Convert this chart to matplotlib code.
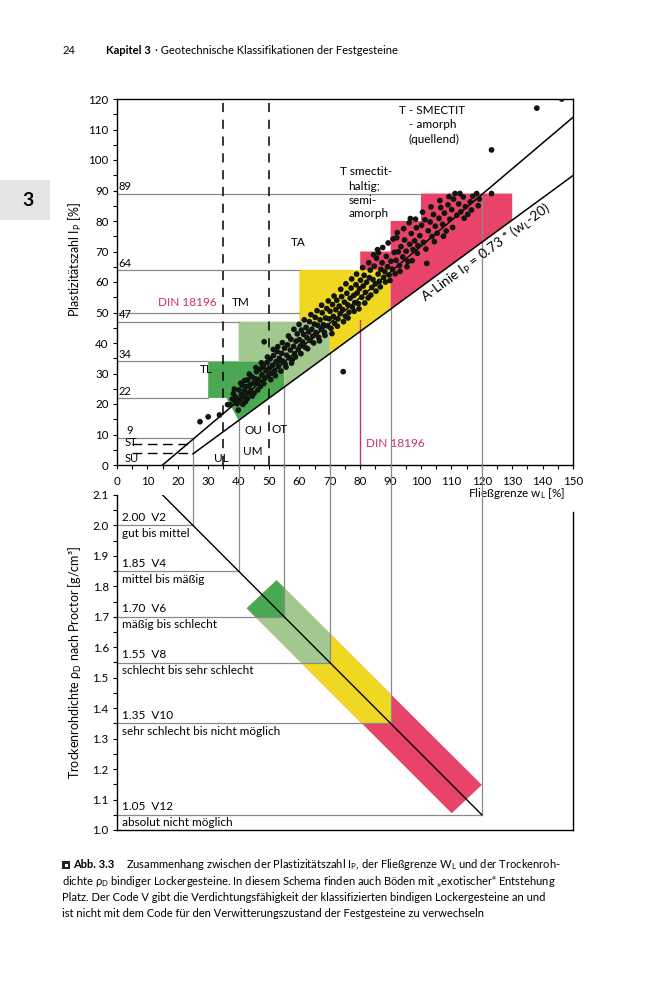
import numpy as np
import matplotlib
matplotlib.use("Agg")
import matplotlib.pyplot as plt
from matplotlib.patches import Polygon, Rectangle

plt.rcParams['font.family'] = ['Lato', 'DejaVu Sans']
plt.rcParams['mathtext.fontset'] = 'custom'
plt.rcParams['mathtext.rm'] = 'Lato'
plt.rcParams['mathtext.it'] = 'Lato:italic'
plt.rcParams['mathtext.bf'] = 'Lato:bold'
plt.rcParams['mathtext.fallback'] = 'stixsans'

# --- Daten: Punktwolke (w_L, I_P) ---
wl_pts = [36.4, 37.2, 37.9, 38.3, 38.8, 39.1, 39.9, 40.1, 40.4, 40.9, 41.2, 41.6, 41.9, 42.3, 42.6,
          43.0, 43.1, 43.7, 44.0, 44.3, 44.8, 45.1, 45.4, 45.9, 46.1, 46.6, 47.0, 47.2, 47.7, 48.1,
          48.4, 48.6, 49.0, 49.3, 49.7, 50.1, 50.4, 50.8, 51.2, 51.5, 51.9, 52.3, 52.7, 53.1, 53.4,
          53.9, 54.2, 54.6, 55.1, 55.3, 55.8, 56.1, 56.6, 57.0, 57.2, 57.7, 58.1, 58.4, 58.9, 59.3,
          59.6, 60.0, 60.3, 60.7, 61.1, 61.4, 61.9, 62.2, 62.5, 63.0, 63.3, 63.6, 64.1, 64.4, 64.9,
          65.2, 65.5, 66.0, 66.3, 66.8, 67.1, 67.5, 67.9, 68.2, 68.6, 69.0, 69.3, 69.8, 70.1, 70.4,
          70.9, 71.2, 71.6, 72.0, 72.3, 72.7, 73.1, 73.4, 73.9, 74.2, 74.4, 74.8, 75.1, 75.6, 75.9,
          76.3, 76.7, 77.0, 77.4, 77.9, 78.2, 78.6, 79.0, 79.4, 79.8, 80.1, 80.5, 81.0, 81.3, 81.7,
          82.1, 82.6, 83.0, 83.3, 83.8, 84.2, 84.6, 85.0, 85.4, 85.9, 86.3, 86.8, 87.2, 87.7, 88.1,
          88.6, 89.0, 89.5, 90.1, 90.6, 91.2, 91.8, 92.5, 92.9, 93.4, 94.0, 94.6, 95.1, 95.7, 96.3,
          96.8, 97.4, 97.9, 98.5, 99.0, 99.6, 100.2, 100.8, 101.3, 101.9, 102.4, 103.0, 103.6, 104.1,
          104.7, 105.3, 105.9, 106.5, 107.1, 107.7, 108.3, 108.9, 109.5, 110.1, 110.7, 111.2, 111.8,
          112.4, 113.1, 113.9, 114.6, 115.4, 116.2, 117.0, 118.3, 119.2, 123.2, 123.2, 138.1, 146.3,
          27.3, 30.0, 33.7,
          38.6, 39.5, 40.7, 41.4, 42.0, 42.9, 43.5, 44.5, 45.7, 46.3, 47.5, 48.3, 49.5, 50.6, 51.4,
          52.1, 52.9, 53.7, 54.4, 55.6, 56.4, 57.4, 58.2, 58.7, 59.9, 60.5, 61.6, 62.7, 63.8, 64.7,
          65.8, 66.6, 67.3, 68.4, 69.5, 70.7, 71.4, 72.5, 73.6, 74.5, 75.3, 76.0, 77.2, 78.0, 78.8,
          79.6, 80.8, 81.5, 82.8, 83.5, 84.4, 85.2, 86.0, 86.6, 87.4, 88.3, 89.2, 89.8, 90.8, 91.5,
          92.2, 93.1, 94.3, 95.4, 96.1, 97.1, 98.2, 98.8, 100.5, 101.6, 103.3, 104.4, 106.2, 107.4,
          109.2, 110.4, 112.8, 114.2, 116.6, 118.8, 96.5, 85.7, 92.0]
ip_pts = [19.8, 19.7, 21.6, 23.4, 20.9, 22.2, 18.0, 24.6, 21.3, 23.0, 26.1, 22.4, 24.3, 20.8, 25.7,
          27.9, 23.6, 26.2, 24.4, 29.0, 26.8, 23.5, 28.3, 30.6, 26.9, 28.1, 31.4, 25.8, 29.6, 32.3,
          40.4, 28.4, 30.9, 33.6, 29.2, 31.8, 34.8, 30.1, 32.7, 35.9, 31.0, 33.9, 37.2, 32.4, 35.0,
          30.8, 36.6, 34.1, 38.3, 33.2, 36.0, 39.4, 35.1, 37.7, 41.2, 34.6, 38.9, 36.5, 40.6, 43.0,
          37.8, 41.1, 39.0, 44.2, 40.3, 42.8, 38.6, 45.1, 41.7, 43.6, 47.0, 40.8, 44.5, 42.3, 46.2,
          48.4, 43.4, 45.8, 41.9, 47.6, 44.7, 49.9, 46.0, 43.5, 48.2, 51.3, 45.6, 47.9, 50.4, 44.8,
          52.6, 48.7, 46.4, 50.9, 54.0, 47.9, 52.1, 49.6, 55.2, 51.0, 30.6, 53.4, 48.8, 56.3, 52.5,
          50.1, 54.7, 58.0, 51.8, 55.6, 53.2, 59.1, 56.4, 52.9, 57.8, 60.6, 55.0, 58.7, 62.2, 56.6,
          59.9, 54.8, 61.4, 63.9, 58.2, 60.8, 65.2, 59.4, 67.8, 62.6, 60.2, 64.1, 66.3, 61.5, 63.4,
          68.4, 65.0, 62.3, 66.8, 64.2, 69.7, 67.1, 69.9, 65.4, 71.6, 68.2, 73.8, 70.1, 66.7, 72.4,
          75.9, 70.6, 73.5, 77.8, 71.9, 75.2, 78.6, 73.0, 80.4, 66.1, 76.8, 79.7, 74.9, 82.1,
          78.3, 76.0, 80.9, 84.4, 78.9, 82.6, 76.7, 85.3, 80.6, 83.7, 87.2, 89.0, 81.9,
          85.6, 83.0, 87.9, 84.7, 82.2, 86.3, 88.1, 89.0, 87.2, 89.0, 103.3, 117.0, 120.0,
          14.2, 15.8, 16.4,
          24.9, 20.1, 26.8, 19.9, 27.7, 21.8, 29.8, 22.6, 31.9, 24.6, 33.5, 26.7, 35.4, 28.0, 37.9,
          29.3, 38.8, 34.2, 40.1, 32.1, 42.3, 33.4, 44.5, 35.4, 46.1, 36.5, 47.6, 38.1, 49.3, 40.0,
          50.6, 40.7, 52.4, 42.5, 53.8, 43.1, 55.4, 45.5, 57.6, 47.0, 59.4, 48.2, 61.0, 50.4, 62.6,
          51.2, 64.7, 53.1, 66.3, 55.7, 68.9, 57.0, 69.6, 58.4, 71.3, 60.0, 72.8, 60.5, 74.1, 62.7,
          76.2, 63.5, 77.5, 65.0, 79.4, 67.0, 80.6, 69.4, 82.9, 70.8, 84.6, 73.2, 86.7, 75.0,
          88.0, 77.9, 89.0, 80.9, 83.6, 85.0, 80.8, 70.6, 74.5]

# Linien oben
a_slope, a_shift = 0.73, 20          # A-Linie I_P = 0.73*(w_L-20)
upper_line_w = [15, 150]
upper_line_ip = [0, 114]

# Grenzwerte w_L und Proctordichten
w_bounds = [25, 40, 55, 70, 90, 120]
rho_levels = [2.00, 1.85, 1.70, 1.55, 1.35, 1.05]
v_codes = ['2.00  V2', '1.85  V4', '1.70  V6', '1.55  V8', '1.35  V10', '1.05  V12']
v_texts = ['gut bis mittel', 'mittel bis mäßig', 'mäßig bis schlecht',
           'schlecht bis sehr schlecht', 'sehr schlecht bis nicht möglich', 'absolut nicht möglich']
rho_line_w = [15, 120]
rho_line_rho = [2.10, 1.05]

# Plastizitaets-Grenzen links
ip_levels = [89, 64, 50, 47, 34, 22, 9]
ip_level_ends = [100, 60, 60, 40, 30, 30, 25]
ip_level_labels = ['89', '64', '', '47', '34', '22', '9']
xticks = list(range(0, 151, 10))
yticks = list(range(0, 121, 10))
rho_ticks = [1.0, 1.1, 1.2, 1.3, 1.4, 1.5, 1.6, 1.7, 1.8, 1.9, 2.0, 2.1]

# Band im unteren Diagramm
band_w = [42.7, 52.5, 120.0, 110.1]
band_rho = [1.728, 1.82, 1.148, 1.055]

c_dgreen = '#4aa852'
c_lgreen = '#a2c78f'
c_yellow = '#f0d822'
c_red = '#e8446a'
c_din = '#c8325f'
c_grey = '#8a8a8a'


def aline(w):
    return a_slope * (w - a_shift)


fig = plt.figure(figsize=(6.59, 10), dpi=100)
ax1 = fig.add_axes([117 / 659, 535 / 1000, 456 / 659, 366 / 1000])
ax2 = fig.add_axes([117 / 659, 170 / 1000, 456 / 659, 335 / 1000])
ax2.patch.set_visible(False)

# ---------------- oberes Diagramm ----------------
ax1.set_xlim(0, 150)
ax1.set_ylim(0, 120)

boxes = [
    ([(30, 22), (30, 34), (55, 34), (55, aline(55)), (40, aline(40)), (36, 22)], c_dgreen),
    ([(40, 34), (40, 47), (70, 47), (70, aline(70)), (55, aline(55)), (55, 34)], c_lgreen),
    ([(60, 47), (60, 64), (90, 64), (90, aline(90)), (70, aline(70)), (70, 47)], c_yellow),
    ([(80, 64), (80, 70), (90, 70), (90, 80), (100, 80), (100, 89), (130, 89),
      (130, aline(130)), (90, aline(90)), (90, 64)], c_red),
]
for verts, col in boxes:
    ax1.add_patch(Polygon(verts, closed=True, facecolor=col, edgecolor='none', zorder=1))

for lev, end, lab in zip(ip_levels, ip_level_ends, ip_level_labels):
    ax1.plot([0, end], [lev, lev], color=c_grey, lw=0.9, zorder=2)
    if lab:
        ax1.text(0.6 if lab != '9' else 3.0, lev + 0.4, lab, fontsize=8, va='bottom', ha='left')

# senkrechte Grenzen (oben bis A-Linie bzw. Kasten)
v_tops = [9, aline(40), aline(55), aline(70), aline(90), 89]
for w, top, rho in zip(w_bounds, v_tops, rho_levels):
    ax1.plot([w, w], [0, top], color=c_grey, lw=0.9, zorder=2)
    ax2.plot([w, w], [rho, 2.199], color=c_grey, lw=0.9, zorder=2, clip_on=False)
ax1.plot([80, 80], [0, 47.5], color=c_din, lw=1.0, zorder=2)

# gestrichelte Linien
for w in [35, 50]:
    ax1.plot([w, w], [0, 120], color='black', lw=1.1, ls=(0, (6, 5)), zorder=4)
ax1.plot([5, 25], [7, 7], color='black', lw=1.0, ls=(0, (7, 4)), zorder=4)
ax1.plot([5, 25], [4, 4], color='black', lw=1.0, ls=(0, (7, 4)), zorder=4)

wa = np.array([25, 150])
ax1.plot(wa, aline(wa), color='black', lw=1.1, zorder=4)
ax1.plot(upper_line_w, upper_line_ip, color='black', lw=1.1, zorder=4)

ax1.scatter(wl_pts, ip_pts, s=17, color='#101510', edgecolors='none', zorder=5)

# Beschriftungen oben
ax1.text(2.5, 7.4, 'ST', fontsize=8, va='center')
ax1.text(2.5, 2.2, 'SU', fontsize=8, va='center')
ax1.text(29.4, 31.4, 'TL', fontsize=8.5, ha='center', va='center', zorder=6)
ax1.text(40.6, 53.2, 'TM', fontsize=8.5, ha='center', va='center')
ax1.text(23.0, 53.2, 'DIN 18196', fontsize=8.5, ha='center', va='center', color=c_din)
ax1.text(59.6, 72.8, 'TA', fontsize=8.5, ha='center', va='center')
ax1.text(44.8, 11.3, 'OU', fontsize=8.5, ha='center', va='center')
ax1.text(53.6, 11.5, 'OT', fontsize=8.5, ha='center', va='center')
ax1.text(44.8, 4.4, 'UM', fontsize=8.5, ha='center', va='center')
ax1.text(34.4, 2.2, 'UL', fontsize=8.5, ha='center', va='center')
ax1.text(82.0, 7.1, 'DIN 18196', fontsize=8.5, ha='left', va='center', color=c_din)
ax1.text(73.4, 96.2, 'T smectit-', fontsize=8.5, ha='left', va='center')
ax1.text(76.1, 91.4, 'haltig;', fontsize=8.5, ha='left', va='center')
ax1.text(76.1, 86.7, 'semi-', fontsize=8.5, ha='left', va='center')
ax1.text(76.1, 82.3, 'amorph', fontsize=8.5, ha='left', va='center')
ax1.text(103.5, 116.2, 'T - SMECTIT', fontsize=8.5, ha='center', va='center')
ax1.text(104.0, 111.6, '- amorph', fontsize=8.5, ha='center', va='center')
ax1.text(104.3, 106.8, '(quellend)', fontsize=8.5, ha='center', va='center')

p1 = ax1.transData.transform((25, aline(25)))
p2 = ax1.transData.transform((150, aline(150)))
ang = np.degrees(np.arctan2(p2[1] - p1[1], p2[0] - p1[0]))
ax1.text(99.0, aline(99.0) - 1.0, r'A-Linie $\mathrm{I_P}$ = 0.73 * ($\mathrm{w_L}$-20)',
         fontsize=9.8, rotation=ang, rotation_mode='anchor', ha='left', va='top', zorder=6)

ax1.set_xticks(xticks)
ax1.set_xticks(range(5, 150, 10), minor=True)
ax1.set_yticks(yticks)
ax1.set_yticks(range(5, 120, 10), minor=True)
ax1.tick_params(which='both', direction='out', length=3, width=0.8, labelsize=8.3, pad=3)
ax1.tick_params(axis='x', pad=5)
for sp in ax1.spines.values():
    sp.set_linewidth(1.0)

ax1.text(131.5, -9.4, r'Fließgrenze $\mathrm{w_L}$ [%]', fontsize=8.5, ha='center', va='center',
         clip_on=False, zorder=6)
fig.text(75 / 659, 1 - 260 / 1000, r'Plastizitätszahl $\mathrm{I_P}$ [%]', fontsize=9,
         rotation=90, ha='center', va='center')

# ---------------- unteres Diagramm ----------------
ax2.set_xlim(0, 150)
ax2.set_ylim(1.0, 2.1)

band = list(zip(band_w, band_rho))
layers = [(c_red, 150, 1.0), (c_yellow, 90, 1.35), (c_lgreen, 70, 1.55), (c_dgreen, 55, 1.70)]
for col, wmax, rmin in layers:
    poly = Polygon(band, closed=True, facecolor=col, edgecolor='none', zorder=1)
    ax2.add_patch(poly)
    clip = Rectangle((0, rmin), wmax, 2.1 - rmin, transform=ax2.transData)
    poly.set_clip_path(clip)

for lev, w, code, txt in zip(rho_levels, w_bounds, v_codes, v_texts):
    ax2.plot([0, w], [lev, lev], color=c_grey, lw=0.9, zorder=2)
    ax2.text(1.5, lev + 0.008, code, fontsize=8.5, ha='left', va='bottom')
    ax2.text(1.5, lev - 0.008, txt, fontsize=8.5, ha='left', va='top')

ax2.plot(rho_line_w, rho_line_rho, color='black', lw=1.0, zorder=4)

ax2.set_yticks(rho_ticks)
ax2.set_yticklabels(['%.1f' % t for t in rho_ticks])
ax2.set_yticks(np.arange(1.05, 2.1, 0.1), minor=True)
ax2.set_xticks([])
ax2.tick_params(which='both', direction='out', length=3, width=0.8, labelsize=8.3, pad=3)
ax2.spines['top'].set_visible(False)
ax2.spines['right'].set_bounds(1.0, 2.045)
for sp in ax2.spines.values():
    sp.set_linewidth(1.0)

fig.text(75 / 659, 1 - 662 / 1000, 'Trockenrohdichte ρ$_\\mathrm{D}$ nach Proctor [g/cm³]',
         fontsize=9, rotation=90, ha='center', va='center')

# ---------------- Seitenkopf und Bildunterschrift ----------------
fig.text(63 / 659, 1 - 51 / 1000, '24', fontsize=8, va='center')
fig.text(106 / 659, 1 - 51 / 1000, 'Kapitel 3', fontsize=8, fontweight='bold', va='center')
fig.text(155 / 659, 1 - 51 / 1000, '· Geotechnische Klassifikationen der Festgesteine',
         fontsize=8, va='center')

fig.patches.append(Rectangle((0, 1 - 220 / 1000), 50 / 659, 40 / 1000, transform=fig.transFigure,
                             facecolor='#e4e4e4', edgecolor='none'))
fig.text(28 / 659, 1 - 200 / 1000, '3', fontsize=14, fontweight='bold', ha='center', va='center')

fig.patches.append(Rectangle((62 / 659, 1 - 869 / 1000), 8 / 659, 8 / 1000,
                             transform=fig.transFigure, facecolor='#222222', edgecolor='none'))
fig.patches.append(Rectangle((64.5 / 659, 1 - 866.5 / 1000), 3 / 659, 3 / 1000,
                             transform=fig.transFigure, facecolor='white', edgecolor='none'))
fig.text(73 / 659, 1 - 865 / 1000, 'Abb. 3.3', fontsize=8, fontweight='bold', va='center')
fig.text(126 / 659, 1 - 865 / 1000,
         r'Zusammenhang zwischen der Plastizitätszahl $\mathrm{I_P}$, der Fließgrenze $\mathrm{W_L}$'
         ' und der Trockenroh-', fontsize=8, va='center')
fig.text(62 / 659, 1 - 881.5 / 1000,
         'dichte ρ$_\\mathrm{D}$ bindiger Lockergesteine. In diesem Schema finden auch Böden mit '
         '\u201eexotischer\u201c Entstehung', fontsize=8, va='center')
fig.text(62 / 659, 1 - 897.5 / 1000,
         'Platz. Der Code V gibt die Verdichtungsfähigkeit der klassifizierten bindigen '
         'Lockergesteine an und', fontsize=8, va='center')
fig.text(62 / 659, 1 - 913.5 / 1000,
         'ist nicht mit dem Code für den Verwitterungszustand der Festgesteine zu verwechseln',
         fontsize=8, va='center')

fig.savefig('out.png', dpi=100)
